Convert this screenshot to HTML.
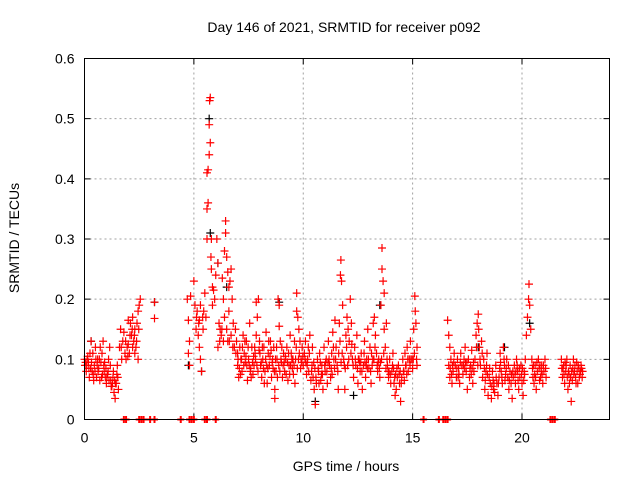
<!DOCTYPE html>
<html><head><meta charset="utf-8"><style>
html,body{margin:0;padding:0;background:#fff;}
svg text{font-family:"Liberation Sans",sans-serif;font-size:14px;fill:#000;}
</style></head><body>
<svg id="chart" width="640" height="480" viewBox="0 0 640 480" xmlns="http://www.w3.org/2000/svg">
<rect width="640" height="480" fill="#fff"/>
<text x="344" y="32" text-anchor="middle">Day 146 of 2021, SRMTID for receiver p092</text>
<text x="19" y="238" text-anchor="middle" transform="rotate(-90 19 238)">SRMTID / TECUs</text>
<text x="346" y="471" text-anchor="middle">GPS time / hours</text>
<g id="grid"></g><g id="axes"></g><g id="marks"></g>
<rect x="84.5" y="58.5" width="525" height="361" fill="none" stroke="#000" stroke-width="1"/>
</svg>
<script>
const xTicks=[0,5,10,15,20];
const yTicks=[0,0.1,0.2,0.3,0.4,0.5,0.6];
const yTickLabels=["0","0.1","0.2","0.3","0.4","0.5","0.6"];
const zeroHours=[1.8,1.9,2.5,2.6,2.7,3.0,3.2,4.4,4.8,4.9,5.0,5.5,5.6,6.0,15.5,16.2,16.4,16.5,16.6,21.3,21.4,21.5];
const blackObs=[[5.7,.5],[5.75,.31],[6.1,.26],[6.5,.22],[4.75,.09],[5.35,.08],[3.2,.195],[8.9,.195],[13.5,.19],[12.3,.04],[10.55,.03],[18.0,.12],[19.2,.12],[20.35,.16],[0.3,.13]];
const redObs=[
[0.0,.10],[0.05,.095],[0.1,.09],[0.15,.105],[0.2,.085],[0.25,.11],[0.3,.13],[0.35,.08],[0.4,.075],[0.45,.09],[0.5,.12],[0.55,.07],[0.6,.1],[0.65,.085],[0.7,.065],[0.75,.095],[0.8,.11],[0.85,.13],[0.9,.08],[0.95,.07],[1.0,.06],[1.05,.075],[1.1,.1],[1.15,.12],[1.2,.065],[1.25,.055],[1.3,.07],[1.35,.045],[1.4,.035],[1.45,.06],[1.5,.09],[1.55,.05],
[0.02,.09],[0.12,.1],[0.22,.07],[0.32,.095],[0.42,.065],[0.52,.1],[0.62,.08],[0.72,.12],[0.82,.075],[0.92,.095],[1.02,.07],[1.12,.065],[1.22,.055],[1.32,.08],[1.42,.06],[1.52,.07],
[1.6,.12],[1.65,.15],[1.7,.1],[1.75,.13],[1.8,.145],[1.85,.11],[1.9,.1],[1.95,.12],[2.0,.125],[2.05,.11],[2.1,.16],[2.15,.14],[2.2,.17],[2.25,.13],[2.3,.15],[2.35,.12],[2.4,.16],[2.45,.18],[2.5,.19],[2.55,.2],[2.45,.1],[2.3,.11],[2.0,.165],[2.2,.12],
[3.2,.195],[3.2,.168],
[4.7,.2],[4.75,.165],[4.8,.13],[4.8,.09],[4.75,.11],[4.85,.205],
[5.0,.23],[5.05,.19],[5.1,.15],[5.15,.18],[5.2,.14],[5.25,.12],[5.25,.165],[5.3,.1],[5.35,.08],[5.3,.19],[5.4,.17],[5.45,.18],[5.5,.21],[5.55,.17],[5.6,.3],[5.6,.35],[5.6,.41],[5.65,.415],[5.65,.36],[5.7,.44],[5.7,.49],[5.72,.53],[5.75,.535],[5.75,.46],[5.78,.27],[5.8,.3],[5.8,.25],[5.85,.22],[5.85,.19],[5.9,.215],[5.95,.2],[6.0,.24],[6.05,.3],[6.1,.26],[6.1,.12],[6.15,.16],[6.2,.15],[6.25,.14],[6.3,.235],[6.35,.2],[6.35,.13],[6.4,.28],[6.4,.17],[6.45,.33],[6.45,.31],[6.5,.27],[6.5,.15],[6.55,.13],[6.55,.245],[6.6,.22],[6.6,.18],[6.65,.23],[6.7,.25],[6.7,.14],[6.75,.2],[6.8,.16],[6.85,.12],[6.9,.15],[6.95,.13],[7.0,.11],
[7.0,.09],[7.05,.07],[7.1,.12],[7.15,.1],[7.2,.08],[7.25,.14],[7.3,.11],[7.35,.095],[7.4,.13],[7.45,.065],[7.5,.1],[7.55,.16],[7.6,.085],[7.65,.12],[7.7,.075],[7.75,.09],[7.8,.11],[7.85,.14],[7.85,.195],[7.9,.17],[7.95,.2],[8.0,.13],[8.05,.09],[8.1,.07],[8.15,.1],[8.2,.12],[8.25,.08],[8.3,.145],[8.35,.06],[8.4,.11],[8.45,.09],[8.5,.13],[8.55,.07],[8.6,.1],[8.65,.12],[8.7,.035],[8.7,.05],[8.75,.08],[8.8,.1],[8.85,.2],[8.9,.155],[8.9,.19],[8.95,.13],[9.0,.095],[9.05,.07],[9.1,.11],[9.15,.08],[9.2,.1],[9.25,.12],[9.3,.065],[9.35,.09],[9.4,.14],[9.45,.11],[9.5,.085],[9.55,.075],[9.6,.13],[9.65,.1],[9.7,.21],[9.7,.18],[9.75,.17],[9.8,.15],[9.85,.13],[9.9,.1],[9.95,.12],[10.0,.09],
[7.02,.1],[7.22,.12],[7.42,.09],[7.62,.07],[7.82,.1],[8.02,.11],[8.22,.06],[8.42,.13],[8.62,.085],[8.82,.07],[9.02,.12],[9.22,.075],[9.42,.09],[9.62,.06],[9.82,.11],
[10.05,.11],[10.1,.13],[10.15,.075],[10.2,.1],[10.25,.08],[10.3,.14],[10.35,.065],[10.4,.09],[10.45,.07],[10.5,.05],[10.55,.025],[10.6,.06],[10.65,.1],[10.7,.08],[10.75,.11],[10.8,.065],[10.85,.09],[10.9,.05],[10.95,.12],[11.0,.08],[11.05,.1],[11.1,.06],[11.15,.13],[11.2,.09],[11.25,.07],[11.3,.11],[11.35,.145],[11.4,.1],[11.45,.165],[11.5,.12],[11.55,.09],[11.6,.05],[11.65,.16],[11.7,.24],[11.72,.265],[11.75,.23],[11.8,.19],[11.85,.1],[11.9,.05],[11.95,.14],[12.0,.17],[12.05,.15],[12.1,.13],[12.15,.2],[12.2,.16],[12.25,.1],[12.3,.07],
[10.12,.095],[10.42,.12],[10.72,.06],[11.02,.095],[11.32,.075],[11.62,.11],[11.92,.085],[12.22,.125],
[12.35,.12],[12.4,.09],[12.45,.14],[12.5,.06],[12.55,.1],[12.6,.08],[12.65,.11],[12.7,.05],[12.75,.09],[12.8,.13],[12.85,.07],[12.9,.1],[12.95,.15],[13.0,.085],[13.05,.12],[13.1,.06],[13.15,.09],[13.2,.16],[13.25,.17],[13.3,.14],[13.35,.11],[13.4,.08],[13.45,.1],[13.5,.07],[13.55,.19],[13.6,.285],[13.6,.25],[13.65,.23],[13.7,.21],[13.7,.15],[13.75,.12],[13.8,.16],[13.85,.09],[13.9,.07],[13.95,.1],[14.0,.06],[14.05,.08],[14.1,.11],[14.15,.06],[14.2,.04],[14.25,.05],[14.3,.07],[14.35,.09],[14.4,.06],[14.45,.03],[14.5,.07],[14.55,.1],[14.6,.08],[14.65,.11],[14.7,.09],[14.75,.12],[14.8,.08],[14.85,.1],[14.9,.13],[15.0,.085],[15.05,.15],[15.1,.205],[15.12,.18],[15.15,.16],[15.2,.12],[15.2,.09],
[12.52,.1],[12.82,.095],[13.12,.11],[13.42,.095],[13.92,.08],[14.22,.075],[14.62,.065],[14.92,.1],
[16.6,.165],[16.65,.14],[16.7,.12],[16.65,.09],[16.7,.07],[16.75,.1],[16.8,.06],[16.85,.08],[16.9,.11],[16.95,.09],[17.0,.07],[17.05,.1],[17.1,.085],[17.15,.06],[17.2,.11],[17.25,.09],[17.3,.075],[17.35,.1],[17.4,.12],[17.45,.08],[17.5,.05],[17.55,.1],[17.6,.07],[17.65,.09],[17.7,.115],[17.75,.06],[17.8,.08],[17.85,.1],[17.9,.14],[17.95,.16],[18.0,.175],[18.05,.12],[18.1,.09],[18.15,.13],[18.2,.07],[18.25,.1],[18.3,.05],[18.35,.08],[18.4,.11],[18.45,.04],[18.5,.07],[18.55,.06],[18.6,.035],[18.65,.08],[18.7,.05],[18.75,.045],[18.8,.09],[18.85,.06],[18.9,.04],[18.95,.07],[19.0,.11],[19.05,.08],[19.1,.06],[19.15,.12],[19.2,.09],[19.25,.075],[19.3,.1],[19.35,.07],[19.4,.05],[19.45,.08],[19.5,.06],[19.55,.035],[19.6,.07],[19.65,.09],[19.7,.06],[19.75,.1],[19.8,.08],[19.85,.05],[19.9,.07],[19.95,.09],[20.0,.06],[20.05,.04],[20.1,.08],[20.15,.1],[20.2,.14],[20.25,.17],[20.3,.2],[20.32,.225],[20.35,.19],[20.4,.15],[20.45,.1],[20.5,.07],[20.55,.06],[20.6,.09],[20.65,.05],[20.7,.08],[20.75,.1],[20.8,.065],[20.85,.07],[20.9,.09],[20.95,.06],[21.0,.08],[21.05,.1],[21.1,.07],
[16.82,.09],[17.12,.075],[17.42,.095],[17.72,.085],[18.02,.15],[18.32,.065],[18.62,.055],[18.92,.06],[19.22,.065],[19.52,.075],[19.82,.065],[20.12,.075],[20.62,.07],[20.92,.075],
[21.8,.1],[21.85,.07],[21.9,.09],[21.95,.06],[22.0,.08],[22.05,.1],[22.1,.05],[22.15,.075],[22.2,.09],[22.25,.03],[22.3,.065],[22.35,.1],[22.4,.08],[22.45,.07],[22.5,.095],[22.55,.06],[22.6,.085],[22.65,.075],[22.7,.09],[22.75,.07],[21.87,.085],[22.07,.07],[22.27,.08],[22.47,.06],[22.67,.08]
];
const redObsDense=[
[0.08,.08],[0.18,.095],[0.28,.085],[0.38,.11],[0.48,.08],[0.58,.09],[0.68,.1],[0.78,.07],[0.88,.09],[0.98,.085],[1.08,.08],[1.18,.09],[1.28,.06],[1.38,.065],[1.48,.075],
[1.68,.12],[1.88,.13],[2.08,.14],[2.28,.14],[2.38,.13],[2.48,.15],[2.18,.15],[1.98,.105],
[5.12,.17],[5.22,.16],[5.42,.15],[6.18,.13],[6.28,.15],[6.62,.13],[6.78,.12],[6.92,.11],
[7.08,.085],[7.18,.1],[7.28,.09],[7.38,.105],[7.48,.12],[7.58,.08],[7.68,.095],[7.78,.12],[7.88,.09],[7.98,.115],[8.08,.095],[8.18,.085],[8.28,.1],[8.38,.085],[8.48,.105],[8.58,.095],[8.68,.08],[8.78,.12],[8.88,.09],[8.98,.1],[9.08,.09],[9.18,.105],[9.28,.095],[9.38,.075],[9.48,.1],[9.58,.09],[9.68,.12],[9.78,.1],[9.88,.085],[9.98,.105],
[7.13,.075],[7.33,.13],[7.53,.09],[7.73,.105],[7.93,.08],[8.13,.12],[8.33,.09],[8.53,.115],[8.73,.1],[8.93,.08],[9.13,.095],[9.33,.11],[9.53,.1],[9.73,.085],[9.93,.095],
[10.08,.1],[10.18,.09],[10.28,.11],[10.38,.08],[10.48,.095],[10.58,.07],[10.68,.085],[10.78,.095],[10.88,.075],[10.98,.09],[11.08,.08],[11.18,.1],[11.28,.085],[11.38,.12],[11.48,.1],[11.58,.08],[11.68,.13],[11.78,.11],[11.88,.09],[11.98,.12],[12.08,.1],[12.18,.11],[12.28,.09],
[10.23,.12],[10.53,.085],[10.83,.075],[11.13,.095],[11.43,.085],[11.73,.095],[12.03,.09],
[12.38,.1],[12.48,.085],[12.58,.095],[12.68,.08],[12.78,.11],[12.88,.09],[12.98,.1],[13.08,.08],[13.18,.1],[13.28,.12],[13.38,.09],[13.48,.085],[13.58,.1],[13.68,.11],[13.78,.085],[13.88,.08],[13.98,.075],[14.08,.09],[14.18,.07],[14.28,.085],[14.38,.075],[14.48,.06],[14.58,.08],[14.68,.09],[14.78,.1],[14.88,.09],[14.98,.1],[15.08,.11],[15.18,.1],
[12.63,.095],[12.93,.085],[13.23,.1],[13.53,.095],[13.83,.1],[14.13,.085],[14.43,.08],[14.73,.075],[15.03,.1],
[16.72,.085],[16.88,.095],[17.02,.085],[17.18,.095],[17.32,.09],[17.48,.095],[17.62,.085],[17.78,.095],[17.92,.12],[18.08,.1],[18.18,.11],[18.28,.085],[18.42,.075],[18.52,.085],[18.68,.065],[18.82,.07],[18.98,.085],[19.08,.07],[19.18,.1],[19.28,.085],[19.42,.065],[19.58,.08],[19.68,.075],[19.78,.09],[19.88,.085],[19.98,.075],[20.08,.065],[20.48,.085],[20.58,.075],[20.68,.095],[20.78,.085],[20.88,.08],[20.98,.09],[21.08,.085],
[16.78,.075],[17.08,.07],[17.38,.085],[17.68,.075],[17.98,.09],[18.38,.09],[18.72,.06],[19.02,.095],[19.38,.09],[19.72,.08],[20.02,.085],[20.52,.09],[20.82,.09],
[21.82,.085],[21.92,.075],[22.02,.09],[22.12,.08],[22.22,.07],[22.32,.085],[22.42,.09],[22.52,.08],[22.62,.07],[22.72,.085],[21.97,.095],[22.17,.06],[22.37,.075],[22.57,.09],[22.77,.08]
];
const NS="http://www.w3.org/2000/svg";
const X0=84.5,X1=609.5,Y0=419.5,Y1=58.5;
function sx(h){return X0+(h/24)*(X1-X0);}
function sy(v){return Y0-(v/0.6)*(Y0-Y1);}
function mk(tag,attrs,parent){const e=document.createElementNS(NS,tag);for(const k in attrs)e.setAttribute(k,attrs[k]);parent.appendChild(e);return e;}
const grid=document.getElementById('grid'),axes=document.getElementById('axes'),marks=document.getElementById('marks');
yTicks.forEach((t,i)=>{const y=sy(t);
 if(i>0&&i<yTicks.length-1){const g=mk('line',{x1:X0,x2:X1,y1:y,y2:y,stroke:'#a0a0a0','stroke-dasharray':'2,3'},grid);
 
 }
 const tk=mk('path',{d:`M${X0} ${y}h6M${X1} ${y}h-6`,stroke:'#000'},axes);
 
 
 const tx=mk('text',{x:X0-10,y:y+5,'text-anchor':'end'},axes);tx.textContent=yTickLabels[i];
 
 
});
xTicks.forEach(t=>{const x=sx(t);
 if(t>0){const g=mk('line',{x1:x,x2:x,y1:Y0,y2:Y1,stroke:'#a0a0a0','stroke-dasharray':'2,3'},grid);
 
 }
 const tk=mk('path',{d:`M${x} ${Y0}v-6M${x} ${Y1}v6`,stroke:'#000'},axes);
 
 
 const tx=mk('text',{x:x,y:Y0+23,'text-anchor':'middle'},axes);tx.textContent=String(t);
 
 
});
function plus(h,v,color,name){const x=sx(h),y=sy(v);
 const p=mk('path',{d:`M${x-4} ${y}h8M${x} ${y-4}v8`,stroke:color,'stroke-width':1.2,fill:'none'},marks);
 
 }
blackObs.forEach(o=>plus(o[0],o[1],'#000','black-point'));
redObs.forEach(o=>plus(o[0],o[1],'#f00','red-point'));
redObsDense.forEach(o=>plus(o[0],o[1],'#f00','red-point'));
zeroHours.forEach(h=>{const x=sx(h),y=sy(0);
 const p=mk('path',{d:`M${x-3.5} ${y}h7M${x} ${y-3.5}v7`,stroke:'#f00','stroke-width':2},marks);
 
 });
</script>
</body></html>
